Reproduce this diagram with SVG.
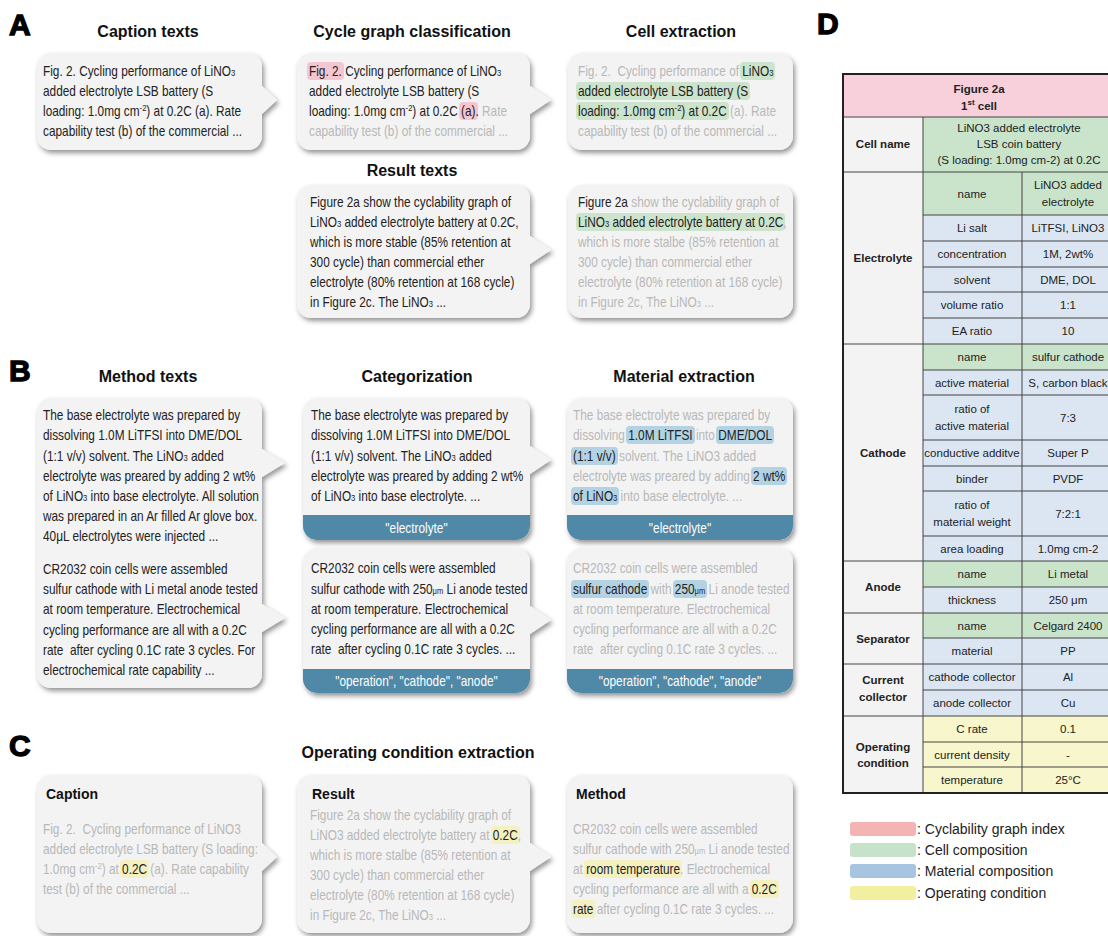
<svg xmlns="http://www.w3.org/2000/svg" width="1108" height="936" viewBox="0 0 1108 936">
<defs>
<filter id="sh" x="-10%" y="-10%" width="130%" height="130%"><feDropShadow dx="2" dy="3" stdDeviation="2.5" flood-color="#000" flood-opacity="0.42"/></filter>
</defs>
<style>
.bub{fill:#f3f3f3;filter:url(#sh)}
.bar{fill:#5089a8}
.bt{font-family:"Liberation Sans",Arial,sans-serif;font-size:14px;fill:#222}
.pre{white-space:pre}
.lt{fill:#b8b8b8}
.dk{fill:#222}
.s{font-size:9px}
.hd{font-family:"Liberation Sans",Arial,sans-serif;font-size:16px;font-weight:bold;fill:#111;text-anchor:middle}
.pl{font-family:"Liberation Sans",Arial,sans-serif;font-size:30px;font-weight:bold;fill:#000;stroke:#000;stroke-width:1.3}
.bh{font-family:"Liberation Sans",Arial,sans-serif;font-size:14px;font-weight:bold;fill:#111}
.bw{font-family:"Liberation Sans",Arial,sans-serif;font-size:14px;fill:#fff;text-anchor:middle}
.hp{fill:#f4c6d0}.hg{fill:#cce4cb}.hb{fill:#b3d2e4}.hy{fill:#f5f0bf}
.tc{font-family:"Liberation Sans",Arial,sans-serif;font-size:11.5px;fill:#222;text-anchor:middle}
.tb{font-weight:bold}
.lg{font-family:"Liberation Sans",Arial,sans-serif;font-size:14px;fill:#222}
.ln{stroke:#444;stroke-width:1;fill:none}
</style>

<!-- panel letters -->
<text class="pl" x="9" y="35">A</text>
<text class="pl" x="9" y="381">B</text>
<text class="pl" x="9" y="756">C</text>
<text class="pl" x="817" y="34">D</text>

<!-- headings -->
<text class="hd" x="148" y="37">Caption texts</text>
<text class="hd" x="412" y="37">Cycle graph classification</text>
<text class="hd" x="681" y="37">Cell extraction</text>
<text class="hd" x="412" y="176">Result texts</text>
<text class="hd" x="148" y="382">Method texts</text>
<text class="hd" x="417" y="382">Categorization</text>
<text class="hd" x="684" y="382">Material extraction</text>
<text class="hd" x="418" y="758">Operating condition extraction</text>

<!-- A1 -->
<g id="caption-texts">
<path class="bub" d="M51,53 H248 A14,14 0 0 1 262,67 V86 L277,100 L262,114 V136 A14,14 0 0 1 248,150 H51 A14,14 0 0 1 37,136 V67 A14,14 0 0 1 51,53 Z"/>
<g transform="translate(43 0) scale(0.845 1)">
<text class="bt" y="76">Fig. 2. Cycling performance of LiNO<tspan class="s">3</tspan></text>
<text class="bt" y="96">added electrolyte LSB battery (S</text>
<text class="bt" y="116">loading: 1.0mg cm<tspan class="s" dy="-5">-2</tspan><tspan dy="5">) at 0.2C (a). Rate</tspan></text>
<text class="bt" y="136">capability test (b) of the commercial ...</text>
</g>
</g>

<!-- A2 -->
<g id="cycle-graph-classification">
<path class="bub" d="M311,53 H516 A14,14 0 0 1 530,67 V86 L551,100 L530,114 V136 A14,14 0 0 1 516,150 H311 A14,14 0 0 1 297,136 V67 A14,14 0 0 1 311,53 Z"/>
<rect class="hp" x="307" y="62" width="37" height="18" rx="4"/>
<rect class="hp" x="459" y="102" width="19" height="18" rx="4"/>
<g transform="translate(309 0) scale(0.845 1)">
<text class="bt" y="76">Fig. 2. Cycling performance of LiNO<tspan class="s">3</tspan></text>
<text class="bt" y="96">added electrolyte LSB battery (S</text>
<text class="bt" y="116">loading: 1.0mg cm<tspan class="s" dy="-5">-2</tspan><tspan dy="5">) at 0.2C (a).</tspan><tspan class="lt"> Rate</tspan></text>
<text class="bt lt" y="136">capability test (b) of the commercial ...</text>
</g>
</g>

<!-- A3 -->
<g id="cell-extraction-caption">
<path class="bub" d="M582,53 H779 A14,14 0 0 1 793,67 V136 A14,14 0 0 1 779,150 H582 A14,14 0 0 1 568,136 V67 A14,14 0 0 1 582,53 Z"/>
<rect class="hg" x="740" y="62" width="35" height="18" rx="4"/>
<rect class="hg" x="576" y="82" width="174" height="18" rx="4"/>
<rect class="hg" x="576" y="102" width="153" height="18" rx="4"/>
<g transform="translate(578 0) scale(0.845 1)">
<text class="bt lt pre" y="76">Fig. 2.  Cycling performance of <tspan class="dk">LiNO<tspan class="s">3</tspan></tspan></text>
<text class="bt" y="96">added electrolyte LSB battery (S</text>
<text class="bt" y="116">loading: 1.0mg cm<tspan class="s" dy="-5">-2</tspan><tspan dy="5">) at 0.2C</tspan><tspan class="lt"> (a). Rate</tspan></text>
<text class="bt lt" y="136">capability test (b) of the commercial ...</text>
</g>
</g>

<!-- A4 -->
<g id="result-texts">
<path class="bub" d="M311,185 H516 A14,14 0 0 1 530,199 V236 L551,250 L530,264 V304 A14,14 0 0 1 516,318 H311 A14,14 0 0 1 297,304 V199 A14,14 0 0 1 311,185 Z"/>
<g transform="translate(310 0) scale(0.845 1)">
<text class="bt" y="207">Figure 2a show the cyclability graph of</text>
<text class="bt" y="227">LiNO<tspan class="s">3</tspan> added electrolyte battery at 0.2C,</text>
<text class="bt" y="247">which is more stable (85% retention at</text>
<text class="bt" y="267">300 cycle) than commercial ether</text>
<text class="bt" y="287">electrolyte (80% retention at 168 cycle)</text>
<text class="bt" y="307">in Figure 2c. The LiNO<tspan class="s">3</tspan> ...</text>
</g>
</g>

<!-- A5 -->
<g id="cell-extraction-result">
<path class="bub" d="M582,185 H779 A14,14 0 0 1 793,199 V304 A14,14 0 0 1 779,318 H582 A14,14 0 0 1 568,304 V199 A14,14 0 0 1 582,185 Z"/>
<rect class="hg" x="576" y="213" width="209" height="18" rx="4"/>
<g transform="translate(578 0) scale(0.845 1)">
<text class="bt" y="207">Figure 2a<tspan class="lt"> show the cyclability graph of</tspan></text>
<text class="bt" y="227">LiNO<tspan class="s">3</tspan> added electrolyte battery at 0.2C<tspan class="lt">,</tspan></text>
<text class="bt lt" y="247">which is more stalbe (85% retention at</text>
<text class="bt lt" y="267">300 cycle) than commercial ether</text>
<text class="bt lt" y="287">electrolyte (80% retention at 168 cycle)</text>
<text class="bt lt" y="307">in Figure 2c, The LiNO<tspan class="s">3</tspan> ...</text>
</g>
</g>

<!-- B1 -->
<g id="method-texts">
<path class="bub" d="M51,398 H248 A14,14 0 0 1 262,412 V449 L285,463 L262,477 V604 L285,618 L262,632 V674 A14,14 0 0 1 248,688 H51 A14,14 0 0 1 37,674 V412 A14,14 0 0 1 51,398 Z"/>
<g transform="translate(43 0) scale(0.845 1)">
<text class="bt" y="420">The base electrolyte was prepared by</text>
<text class="bt" y="440">dissolving 1.0M LiTFSI into DME/DOL</text>
<text class="bt" y="461">(1:1 v/v) solvent. The LiNO<tspan class="s">3</tspan> added</text>
<text class="bt" y="481">electrolyte was preared by adding 2 wt%</text>
<text class="bt" y="501">of LiNO<tspan class="s">3</tspan> into base electrolyte. All solution</text>
<text class="bt" y="521">was prepared in an Ar filled Ar glove box.</text>
<text class="bt" y="541">40μL electrolytes were injected ...</text>
<text class="bt" y="574">CR2032 coin cells were assembled</text>
<text class="bt" y="594">sulfur cathode with Li metal anode tested</text>
<text class="bt" y="614">at room temperature. Electrochemical</text>
<text class="bt" y="635">cycling performance are all with a 0.2C</text>
<text class="bt pre" y="655">rate  after cycling 0.1C rate 3 cycles. For</text>
<text class="bt" y="675">electrochemical rate capability ...</text>
</g>
</g>

<!-- B2 -->
<g id="categorization-electrolyte">
<path class="bub" d="M317,398 H516 A14,14 0 0 1 530,412 V446 L551,460 L530,474 V526 A14,14 0 0 1 516,540 H317 A14,14 0 0 1 303,526 V412 A14,14 0 0 1 317,398 Z"/>
<path class="bar" d="M303,515 H530 V526 A14,14 0 0 1 516,540 H317 A14,14 0 0 1 303,526 Z"/>
<g transform="translate(311 0) scale(0.845 1)">
<text class="bt" y="420">The base electrolyte was prepared by</text>
<text class="bt" y="440">dissolving 1.0M LiTFSI into DME/DOL</text>
<text class="bt" y="461">(1:1 v/v) solvent. The LiNO<tspan class="s">3</tspan> added</text>
<text class="bt" y="481">electrolyte was preared by adding 2 wt%</text>
<text class="bt" y="501">of LiNO<tspan class="s">3</tspan> into base electrolyte. ...</text>
</g>
<g transform="translate(416.5 0) scale(0.845 1)"><text class="bw" y="533">"electrolyte"</text></g>
</g>

<!-- B3 -->
<g id="categorization-operation">
<path class="bub" d="M317,548 H516 A14,14 0 0 1 530,562 V606 L551,620 L530,634 V679 A14,14 0 0 1 516,693 H317 A14,14 0 0 1 303,679 V562 A14,14 0 0 1 317,548 Z"/>
<path class="bar" d="M303,669 H530 V679 A14,14 0 0 1 516,693 H317 A14,14 0 0 1 303,679 Z"/>
<g transform="translate(311 0) scale(0.845 1)">
<text class="bt" y="573">CR2032 coin cells were assembled</text>
<text class="bt" y="594">sulfur cathode with 250<tspan class="s">μm</tspan> Li anode tested</text>
<text class="bt" y="614">at room temperature. Electrochemical</text>
<text class="bt" y="634">cycling performance are all with a 0.2C</text>
<text class="bt pre" y="654">rate  after cycling 0.1C rate 3 cycles. ...</text>
</g>
<g transform="translate(416.5 0) scale(0.845 1)"><text class="bw" y="686">"operation", "cathode", "anode"</text></g>
</g>

<!-- B4 -->
<g id="material-extraction-electrolyte">
<path class="bub" d="M581,398 H779 A14,14 0 0 1 793,412 V526 A14,14 0 0 1 779,540 H581 A14,14 0 0 1 567,526 V412 A14,14 0 0 1 581,398 Z"/>
<path class="bar" d="M567,515 H793 V526 A14,14 0 0 1 779,540 H581 A14,14 0 0 1 567,526 Z"/>
<rect class="hb" x="626" y="426" width="69" height="18" rx="4"/>
<rect class="hb" x="716" y="426" width="58" height="18" rx="4"/>
<rect class="hb" x="571" y="447" width="47" height="18" rx="4"/>
<rect class="hb" x="751" y="467" width="36" height="18" rx="4"/>
<rect class="hb" x="571" y="487" width="48" height="18" rx="4"/>
<g transform="translate(573 0) scale(0.845 1)">
<text class="bt lt" y="420">The base electrolyte was prepared by</text>
<text class="bt lt" y="440">dissolving <tspan class="dk">1.0M LiTFSI</tspan> into <tspan class="dk">DME/DOL</tspan></text>
<text class="bt" y="461">(1:1 v/v)<tspan class="lt"> solvent. The LiNO3 added</tspan></text>
<text class="bt lt" y="481">electrolyte was preared by adding <tspan class="dk">2 wt%</tspan></text>
<text class="bt" y="501">of LiNO<tspan class="s">3</tspan><tspan class="lt"> into base electrolyte. ...</tspan></text>
</g>
<g transform="translate(680 0) scale(0.845 1)"><text class="bw" y="533">"electrolyte"</text></g>
</g>

<!-- B5 -->
<g id="material-extraction-operation">
<path class="bub" d="M581,548 H779 A14,14 0 0 1 793,562 V679 A14,14 0 0 1 779,693 H581 A14,14 0 0 1 567,679 V562 A14,14 0 0 1 581,548 Z"/>
<path class="bar" d="M567,669 H793 V679 A14,14 0 0 1 779,693 H581 A14,14 0 0 1 567,679 Z"/>
<rect class="hb" x="571" y="580" width="78" height="18" rx="4"/>
<rect class="hb" x="673" y="580" width="34" height="18" rx="4"/>
<g transform="translate(573 0) scale(0.845 1)">
<text class="bt lt" y="573">CR2032 coin cells were assembled</text>
<text class="bt" y="594">sulfur cathode<tspan class="lt"> with </tspan>250<tspan class="s">μm</tspan><tspan class="lt"> Li anode tested</tspan></text>
<text class="bt lt" y="614">at room temperature. Electrochemical</text>
<text class="bt lt" y="634">cycling performance are all with a 0.2C</text>
<text class="bt lt pre" y="654">rate  after cycling 0.1C rate 3 cycles. ...</text>
</g>
<g transform="translate(680 0) scale(0.845 1)"><text class="bw" y="686">"operation", "cathode", "anode"</text></g>
</g>

<!-- C1 -->
<g id="operating-caption">
<path class="bub" d="M51,775 H248 A14,14 0 0 1 262,789 V843 L277,857 L262,871 V919 A14,14 0 0 1 248,933 H51 A14,14 0 0 1 37,919 V789 A14,14 0 0 1 51,775 Z"/>
<text class="bh" x="46" y="799">Caption</text>
<rect class="hy" x="120" y="860" width="29" height="18" rx="4"/>
<g transform="translate(43 0) scale(0.845 1)">
<text class="bt lt pre" y="834">Fig. 2.  Cycling performance of LiNO3</text>
<text class="bt lt" y="854">added electrolyte LSB battery (S loading:</text>
<text class="bt lt" y="874">1.0mg cm<tspan class="s" dy="-5">-2</tspan><tspan dy="5">) at </tspan><tspan class="dk">0.2C</tspan> (a). Rate capability</text>
<text class="bt lt" y="894">test (b) of the commercial ...</text>
</g>
</g>

<!-- C2 -->
<g id="operating-result">
<path class="bub" d="M311,775 H516 A14,14 0 0 1 530,789 V843 L551,857 L530,871 V919 A14,14 0 0 1 516,933 H311 A14,14 0 0 1 297,919 V789 A14,14 0 0 1 311,775 Z"/>
<text class="bh" x="312" y="799">Result</text>
<rect class="hy" x="491" y="826" width="29" height="18" rx="4"/>
<g transform="translate(310 0) scale(0.845 1)">
<text class="bt lt" y="820">Figure 2a show the cyclability graph of</text>
<text class="bt lt" y="840">LiNO3 added electrolyte battery at <tspan class="dk">0.2C</tspan>,</text>
<text class="bt lt" y="860">which is more stalbe (85% retention at</text>
<text class="bt lt" y="880">300 cycle) than commercial ether</text>
<text class="bt lt" y="900">electrolyte (80% retention at 168 cycle)</text>
<text class="bt lt" y="920">in Figure 2c, The LiNO<tspan class="s">3</tspan> ...</text>
</g>
</g>

<!-- C3 -->
<g id="operating-method">
<path class="bub" d="M581,775 H779 A14,14 0 0 1 793,789 V919 A14,14 0 0 1 779,933 H581 A14,14 0 0 1 567,919 V789 A14,14 0 0 1 581,775 Z"/>
<text class="bh" x="576" y="799">Method</text>
<rect class="hy" x="584" y="860" width="98" height="18" rx="4"/>
<rect class="hy" x="750" y="880" width="29" height="18" rx="4"/>
<rect class="hy" x="571" y="900" width="25" height="18" rx="4"/>
<g transform="translate(573 0) scale(0.845 1)">
<text class="bt lt" y="834">CR2032 coin cells were assembled</text>
<text class="bt lt" y="854">sulfur cathode with 250<tspan class="s">μm</tspan> Li anode tested</text>
<text class="bt lt" y="874">at <tspan class="dk">room temperature</tspan>. Electrochemical</text>
<text class="bt lt" y="894">cycling performance are all with a <tspan class="dk">0.2C</tspan></text>
<text class="bt lt" y="914"><tspan class="dk">rate</tspan> after cycling 0.1C rate 3 cycles. ...</text>
</g>
</g>

<!-- D table -->
<g id="table-d">
<rect x="843" y="74" width="272" height="43" fill="#f7d0dc"/>
<rect x="843" y="117" width="80" height="676" fill="#f3f3f3"/>
<rect x="923" y="117" width="192" height="98" fill="#c9e4cb"/>
<rect x="923" y="215" width="192" height="129" fill="#dbe6f2"/>
<rect x="923" y="344" width="192" height="26" fill="#c9e4cb"/>
<rect x="923" y="370" width="192" height="191" fill="#dbe6f2"/>
<rect x="923" y="561" width="192" height="26" fill="#c9e4cb"/>
<rect x="923" y="587" width="192" height="26" fill="#dbe6f2"/>
<rect x="923" y="613" width="192" height="25" fill="#c9e4cb"/>
<rect x="923" y="638" width="192" height="78" fill="#dbe6f2"/>
<rect x="923" y="716" width="192" height="77" fill="#f7f6cc"/>
<path class="ln" d="M843,117H1115M843,172H1115M843,344H1115M843,561H1115M843,613H1115M843,664H1115M843,716H1115"/>
<path class="ln" d="M923,215H1115M923,241H1115M923,267H1115M923,292H1115M923,318H1115M923,370H1115M923,395H1115M923,440H1115M923,466H1115M923,491H1115M923,536H1115M923,587H1115M923,638H1115M923,690H1115M923,742H1115M923,767H1115"/>
<path class="ln" d="M923,117V793M1022,172V793"/>
<rect x="843" y="74" width="272" height="719" fill="none" stroke="#222" stroke-width="2"/>

<text class="tc tb" x="979" y="93" font-size="13.5">Figure 2a</text>
<text class="tc tb" x="979" y="110" font-size="13.5">1<tspan font-size="8" dy="-5">st</tspan><tspan dy="5"> cell</tspan></text>

<text class="tc tb" x="883" y="148">Cell name</text>
<text class="tc" x="1019" y="132">LiNO3 added electrolyte</text>
<text class="tc" x="1019" y="148">LSB coin battery</text>
<text class="tc" x="1019" y="164">(S loading: 1.0mg cm-2) at 0.2C</text>

<text class="tc tb" x="883" y="262">Electrolyte</text>
<text class="tc" x="972" y="197.5">name</text>
<text class="tc" x="1068" y="189">LiNO3 added</text>
<text class="tc" x="1068" y="206">electrolyte</text>
<text class="tc" x="972" y="232">Li salt</text><text class="tc" x="1068" y="232">LiTFSI, LiNO3</text>
<text class="tc" x="972" y="258">concentration</text><text class="tc" x="1068" y="258">1M, 2wt%</text>
<text class="tc" x="972" y="283.5">solvent</text><text class="tc" x="1068" y="283.5">DME, DOL</text>
<text class="tc" x="972" y="309">volume ratio</text><text class="tc" x="1068" y="309">1:1</text>
<text class="tc" x="972" y="335">EA ratio</text><text class="tc" x="1068" y="335">10</text>

<text class="tc tb" x="883" y="456.5">Cathode</text>
<text class="tc" x="972" y="361">name</text><text class="tc" x="1068" y="361">sulfur cathode</text>
<text class="tc" x="972" y="386.5">active material</text><text class="tc" x="1068" y="386.5">S, carbon black</text>
<text class="tc" x="972" y="413">ratio of</text><text class="tc" x="972" y="430">active material</text><text class="tc" x="1068" y="421.5">7:3</text>
<text class="tc" x="972" y="457">conductive additve</text><text class="tc" x="1068" y="457">Super P</text>
<text class="tc" x="972" y="482.5">binder</text><text class="tc" x="1068" y="482.5">PVDF</text>
<text class="tc" x="972" y="509">ratio of</text><text class="tc" x="972" y="526">material weight</text><text class="tc" x="1068" y="517.5">7:2:1</text>
<text class="tc" x="972" y="552.5">area loading</text><text class="tc" x="1068" y="552.5">1.0mg cm-2</text>

<text class="tc tb" x="883" y="591">Anode</text>
<text class="tc" x="972" y="578">name</text><text class="tc" x="1068" y="578">Li metal</text>
<text class="tc" x="972" y="604">thickness</text><text class="tc" x="1068" y="604">250 μm</text>

<text class="tc tb" x="883" y="642.5">Separator</text>
<text class="tc" x="972" y="629.5">name</text><text class="tc" x="1068" y="629.5">Celgard 2400</text>
<text class="tc" x="972" y="655">material</text><text class="tc" x="1068" y="655">PP</text>

<text class="tc tb" x="883" y="684">Current</text><text class="tc tb" x="883" y="701">collector</text>
<text class="tc" x="972" y="681">cathode collector</text><text class="tc" x="1068" y="681">Al</text>
<text class="tc" x="972" y="707">anode collector</text><text class="tc" x="1068" y="707">Cu</text>

<text class="tc tb" x="883" y="751">Operating</text><text class="tc tb" x="883" y="767">condition</text>
<text class="tc" x="972" y="733">C rate</text><text class="tc" x="1068" y="733">0.1</text>
<text class="tc" x="972" y="758.5">current density</text><text class="tc" x="1068" y="758.5">-</text>
<text class="tc" x="972" y="784">temperature</text><text class="tc" x="1068" y="784">25°C</text>
</g>

<!-- legend -->
<g id="legend">
<rect x="850" y="822" width="66" height="14" rx="3" fill="#f4b4b4"/>
<rect x="850" y="843" width="66" height="14" rx="3" fill="#c6e3c9"/>
<rect x="850" y="864" width="66" height="14" rx="3" fill="#a7c4e0"/>
<rect x="850" y="886" width="66" height="14" rx="3" fill="#f2f0a0"/>
<text class="lg" x="917" y="834">: Cyclability graph index</text>
<text class="lg" x="917" y="855">: Cell composition</text>
<text class="lg" x="917" y="876">: Material composition</text>
<text class="lg" x="917" y="898">: Operating condition</text>
</g>
</svg>
